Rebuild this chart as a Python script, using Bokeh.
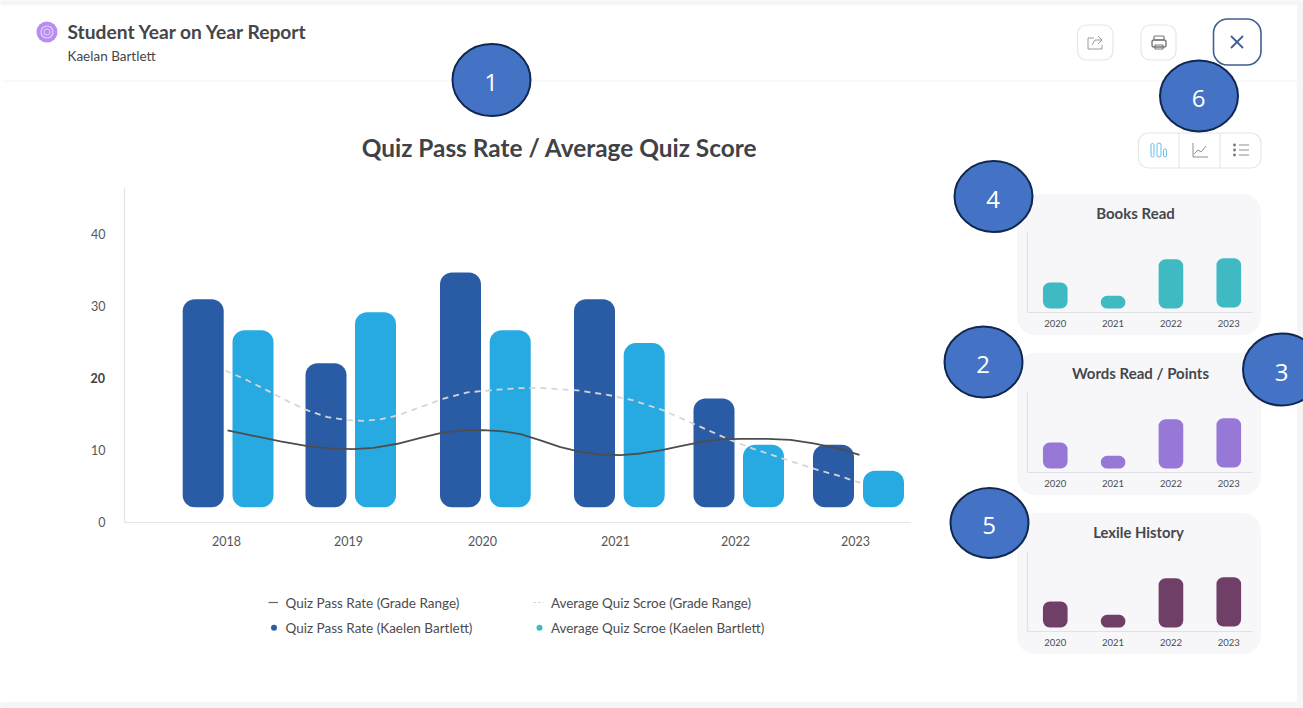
from bokeh.plotting import figure
from bokeh.layouts import column
from bokeh.models import Range1d, FixedTicker, Column
from bokeh.core.properties import value
from bokeh.embed import file_html
from bokeh.resources import INLINE

FONT = "Lato"

# ---- main chart data ----
years = ["2018", "2019", "2020", "2021", "2022", "2023"]
pass_rate = [31.0, 22.1, 34.7, 31.0, 17.2, 10.8]
avg_score = [26.7, 29.2, 26.7, 24.9, 10.8, 7.2]
bar_base = [2.1, 2.1, 2.1, 2.1, 2.1, 2.1]
y_ticks = [0, 10, 20, 30, 40]

grade_pass_x = [227, 253, 280, 307, 330, 352, 373, 397, 420, 443, 463, 483, 503, 520, 540, 560, 580, 600, 620, 640, 660, 680, 700, 720, 740, 767, 790, 813, 837, 859]
grade_pass_y = [12.78, 12.04, 11.25, 10.60, 10.28, 10.19, 10.37, 10.93, 11.76, 12.5, 12.78, 12.82, 12.64, 12.27, 11.39, 10.46, 9.81, 9.44, 9.35, 9.58, 10.0, 10.6, 11.16, 11.53, 11.62, 11.62, 11.48, 10.97, 10.28, 9.39]
grade_score_x = [225, 247, 268, 287, 307, 327, 347, 363, 380, 397, 417, 443, 467, 497, 520, 543, 577, 607, 633, 663, 693, 727, 753, 783, 817, 837, 860]
grade_score_y = [21.1, 19.72, 18.24, 16.85, 15.56, 14.63, 14.21, 14.12, 14.31, 14.86, 15.88, 17.18, 18.06, 18.43, 18.66, 18.66, 18.33, 17.73, 16.94, 15.56, 13.7, 11.62, 10.23, 8.84, 7.31, 6.53, 5.5]

# ---- mini chart data ----
mini_years = [2020, 2021, 2022, 2023]
mini_top = [30, 16.7, 53.3, 54.3]
mini_bottom = [4, 4, 4, 5]

# ---- layout of the year groups (irregular in the reference) ----
dark_x = [202.7, 325.5, 460, 594, 713.5, 833]
light_x = [252.5, 375, 509.7, 643.7, 763, 883]
label_x = [226, 348, 482, 615, 735, 855]

DARK, LIGHT = "#2a5ca5", "#27aae2"
TXT = "#4a4c50"


def layer(w, h, **kw):
    return figure(width=w, height=h, output_backend="svg", toolbar_location=None,
                  outline_line_color=None, background_fill_alpha=0, border_fill_alpha=0, **kw)


def place(f, left, top):
    return Column(children=[f], width=f.width, height=f.height,
                  styles={"position": "absolute", "left": f"{left}px", "top": f"{top}px"})


def page_layer():
    return layer(1303, 708, x_range=Range1d(0.5, 1303.5), y_range=Range1d(708.5, 0.5),
                 x_axis_type=None, y_axis_type=None, min_border=0)


def txt(f, x, y, s, size, color=TXT, style="normal", align="left", font=FONT):
    f.text([x - 0.5], [y - 0.5], text=[s], text_font=value(font), text_font_size=f"{size}px",
           text_color=color, text_font_style=style, text_align=align, text_baseline="middle")


def box(f, l, r, t, b, fill=None, line=None, w=1.0, rad=0):
    f.quad(left=[l], right=[r], top=[t], bottom=[b], fill_color=fill, fill_alpha=1 if fill else 0,
           line_color=line, line_width=w, border_radius=rad)


# ---------------- background ----------------
bg = page_layer()
box(bg, 0, 1304, 0, 5, fill="#f5f5f6")
box(bg, 1297, 1304, 0, 709, fill="#f5f5f6")
box(bg, 0, 1304, 702, 709, fill="#f5f5f6")
box(bg, 2, 1297, 80.5, 81.5, fill="#f4f4f5")

# header
bg.circle([47], [32], radius=10.5, fill_color="#b78df2", line_color=None)
bg.circle([47], [32], radius=6, fill_color=None, line_color="#e3d3fa", line_width=1.2)
bg.circle([47], [32], radius=3, fill_color=None, line_color="#e3d3fa", line_width=1)
txt(bg, 68, 32, "Student Year on Year Report", 19.2, "#44464a", "bold")
txt(bg, 68, 56.5, "Kaelan Bartlett", 13.5, "#44464a")

# header buttons
box(bg, 1077.5, 1113, 25, 60, line="#e6e6e6", w=1.2, rad=9)
box(bg, 1141, 1176, 25, 60, line="#e6e6e6", w=1.2, rad=9)
box(bg, 1213.5, 1261, 19, 65, fill="#ffffff", line="#3f5f93", w=1.6, rad=14)
bg.multi_line([[1231, 1243], [1231, 1243]], [[36, 48], [48, 36]], line_color="#3f5f93", line_width=1.8)
ICON = "#9a9a9a"
bg.multi_line([[1094, 1088, 1088, 1102, 1102], [1092, 1095, 1102], [1098, 1102, 1098]],
              [[38, 38, 49, 49, 45], [45, 40, 40], [36, 40, 44]], line_color=ICON, line_width=1)
box(bg, 1152, 1166, 40, 47, line="#777777", w=1.4, rad=2)
box(bg, 1154, 1164, 36, 40, line="#777777", w=1.2, rad=1)
box(bg, 1155, 1163, 45, 49, line="#777777", w=1.2)

# chart-type toggle
box(bg, 1138.5, 1261, 133, 168, line="#e6e6e6", w=1.2, rad=10)
bg.multi_line([[1179, 1179], [1220, 1220]], [[133, 168], [133, 168]], line_color="#e6e6e6", line_width=1.2)
for l, r, t in [(1151, 1154, 143.5), (1157, 1161, 143), (1163.5, 1166.5, 149)]:
    box(bg, l, r, t, 157, line="#63bdee", w=1, rad=2)
bg.multi_line([[1193, 1193, 1208], [1194, 1198, 1201, 1206]], [[143, 157, 157], [154, 150, 152, 146]],
              line_color="#8f8f8f", line_width=1)
bg.circle([1234.5, 1234.5, 1234.5], [145, 150, 155], radius=1.4, fill_color="#777777", line_color=None)
bg.multi_line([[1239, 1249], [1239, 1249], [1239, 1249]], [[145, 145], [150, 150], [155, 155]],
              line_color="#8f8f8f", line_width=1)

# main title and legend
txt(bg, 560, 148, "Quiz Pass Rate / Average Quiz Score", 24.4, "#3f4247", "bold", "center")
bg.line([268.5, 278], [602.5, 602.5], line_color="#666666", line_width=1.2)
bg.line([533, 544], [602.5, 602.5], line_color="#d8d8d8", line_width=1, line_dash="3 2")
bg.circle([274], [627.7], radius=3, fill_color=DARK, line_color=None)
bg.circle([539.5], [627.7], radius=3, fill_color="#3dbcc4", line_color=None)
txt(bg, 286, 603, "Quiz Pass Rate (Grade Range)", 13.5)
txt(bg, 286, 628, "Quiz Pass Rate (Kaelen Bartlett)", 13.5)
txt(bg, 551.5, 603, "Average Quiz Scroe (Grade Range)", 13.4)
txt(bg, 551.5, 628, "Average Quiz Scroe (Kaelen Bartlett)", 13.4)
txt(bg, 105.5, 378, "20", 12.5, "#3c3e42", "bold", "right")

# mini cards
for t, b, title, cx, ty, size in [(194, 335, "Books Read", 1136, 213, 15),
                                  (353, 495, "Words Read / Points", 1141, 373, 15),
                                  (513, 654, "Lexile History", 1139, 532.5, 14.8)]:
    box(bg, 1017, 1261, t, b, fill="#f7f7fa", rad=18)
    txt(bg, cx, ty, title, size, "#45474b", "bold", "center")

# ---------------- main chart ----------------
main = layer(860, 380, x_range=Range1d(124, 910), y_range=Range1d(0, 46.5),
             min_border_left=64, min_border_right=10, min_border_top=7, min_border_bottom=38)
main.grid.visible = False
main.xaxis.ticker = FixedTicker(ticks=label_x)
main.xaxis.major_label_overrides = {x: y for x, y in zip(label_x, years)}
main.yaxis.ticker = FixedTicker(ticks=y_ticks)
main.yaxis.major_label_overrides = {20: " "}
for ax in (main.xaxis[0], main.yaxis[0]):
    ax.axis_line_color = "#e4e4e4"
    ax.axis_line_width = 1.2
    ax.major_tick_line_color = None
    ax.minor_tick_line_color = None
    ax.major_label_text_font = FONT
    ax.major_label_text_font_size = "12.5px"
    ax.major_label_text_color = "#55575b"
main.xaxis.major_label_standoff = 7
main.yaxis.major_label_standoff = 13
main.vbar(x=dark_x, width=41, top=pass_rate, bottom=bar_base, fill_color=DARK, line_color=None, border_radius=12)
main.vbar(x=light_x, width=41, top=avg_score, bottom=bar_base, fill_color=LIGHT, line_color=None, border_radius=12)
main.line(grade_score_x, grade_score_y, line_color="#d6d6d8", line_width=1.8, line_dash="6 5")
main.line(grade_pass_x, grade_pass_y, line_color="#4d4d4f", line_width=1.8)


# ---------------- mini charts ----------------
def mini(color):
    f = layer(260, 110, x_range=Range1d(2019.52, 2023.41), y_range=Range1d(0, 80),
              min_border_left=27, min_border_right=8, min_border_top=7, min_border_bottom=23)
    f.grid.visible = False
    f.xaxis.ticker = FixedTicker(ticks=mini_years)
    f.yaxis.ticker = FixedTicker(ticks=[])
    for ax in (f.xaxis[0], f.yaxis[0]):
        ax.axis_line_color = "#e2e2e6"
        ax.axis_line_width = 1.2
        ax.major_tick_line_color = None
        ax.minor_tick_line_color = None
    f.xaxis.major_label_text_font = FONT
    f.xaxis.major_label_text_font_size = "9.5px"
    f.xaxis.major_label_text_color = "#4a4c50"
    f.xaxis.major_label_standoff = 1
    f.vbar(x=mini_years, width=0.426, top=mini_top, bottom=mini_bottom, fill_color=color,
           line_color=None, border_radius=7)
    return f


m1 = mini("#3fbac2")
m2 = mini("#9778d6")
m3 = mini("#6f3f67")

# ---------------- numbered markers, on top ----------------
fg = page_layer()
markers = [("1", 491.5, 80, 39, 36), ("2", 983.5, 362, 39, 35.5), ("3", 1282, 369.5, 39, 36),
           ("4", 993.5, 196.5, 39, 35.5), ("5", 989.5, 523, 39, 35), ("6", 1199, 96, 39, 35.5)]
for s, cx, cy, rx, ry in markers:
    fg.ellipse([cx], [cy], width=2 * rx, height=2 * ry, fill_color="#4472c4", line_color="#10284f", line_width=2)
    txt(fg, cx, cy + 3, s, 24, "#ffffff", "normal", "center", "Open Sans")

page = column(place(bg, 0, 0), place(main, 59.5, 180), place(m1, 999.5, 225), place(m2, 999.5, 384.7),
              place(m3, 999.5, 544.3), place(fg, 0, 0), width=1303, height=708, sizing_mode="fixed",
              styles={"position": "absolute", "left": "0px", "top": "0px"})
open("out.html", "w").write(file_html(page, INLINE))
